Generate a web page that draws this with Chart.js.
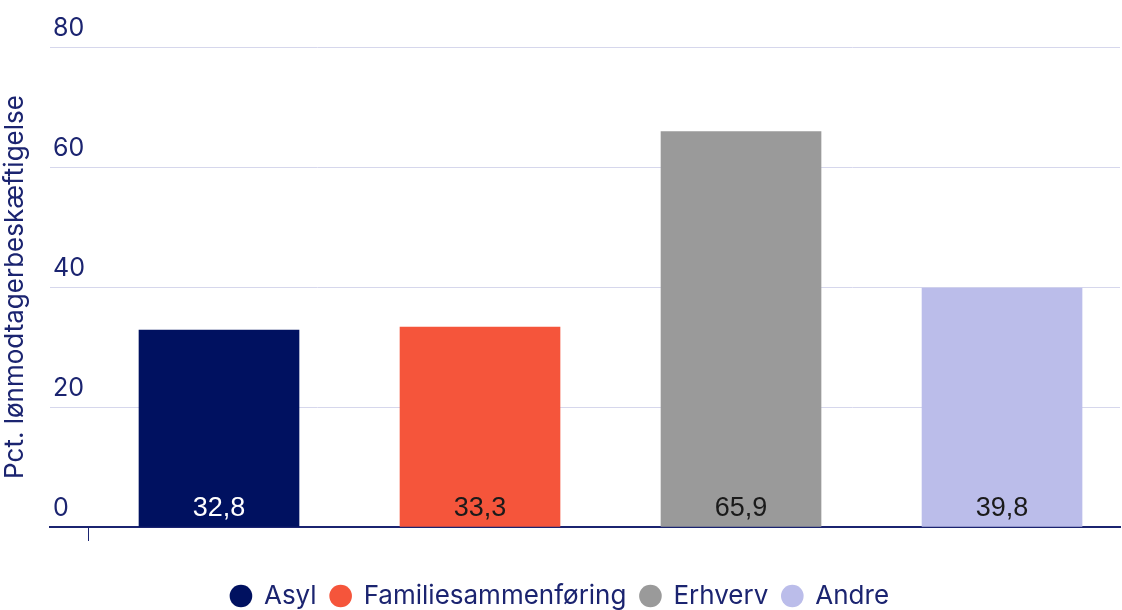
<!doctype html>
<html lang="da">
<head>
  <meta charset="utf-8">
  <title>Lønmodtagerbeskæftigelse</title>
  <script src="https://cdn.jsdelivr.net/npm/chart.js"></script>
  <style>
    html, body { margin: 0; padding: 0; background: #fff; }
    #wrap { width: 1122px; height: 610px; }
  </style>
</head>
<body>
  <div id="wrap"><canvas id="bars"></canvas></div>
  <script>
    // data
    var groups = ['Asyl', 'Familiesammenføring', 'Erhverv', 'Andre'];
    var values = [32.8, 33.3, 65.9, 39.8];
    var colors = ['#001160', '#f5553b', '#9a9a9a', '#bbbdea'];
    var labelColors = ['#ffffff', '#1a1a1a', '#1a1a1a', '#1a1a1a'];
    var yTicks = [0, 20, 40, 60, 80];

    var navy = '#1b2470';
    var uiFont = 'Inter, "Open Sans", sans-serif';

    var datasets = groups.map(function (g, i) {
      return {
        label: g,
        data: [{ x: i + 1, y: values[i] }],
        backgroundColor: colors[i],
        barThickness: 160,
        grouped: false,
        valueColor: labelColors[i]
      };
    });

    // value labels at the foot of each bar
    var valueLabels = {
      id: 'valueLabels',
      afterDatasetsDraw: function (chart) {
        var ctx = chart.ctx;
        ctx.save();
        ctx.font = '27px "Liberation Sans", Arial, sans-serif';
        ctx.textAlign = 'center';
        ctx.textBaseline = 'middle';
        chart.data.datasets.forEach(function (ds, i) {
          var bar = chart.getDatasetMeta(i).data[0];
          ctx.fillStyle = ds.valueColor;
          ctx.fillText(String(ds.data[0].y).replace('.', ','), bar.x, bar.base - 18);
        });
        ctx.restore();
      }
    };

    new Chart(document.getElementById('bars'), {
      type: 'bar',
      data: { datasets: datasets },
      plugins: [valueLabels],
      options: {
        responsive: true,
        maintainAspectRatio: false,
        animation: false,
        layout: { padding: { top: 47, right: 2, bottom: -9, left: 0 } },
        plugins: {
          legend: {
            position: 'bottom',
            labels: {
              usePointStyle: true,
              pointStyle: 'circle',
              boxWidth: 20,
              boxHeight: 16,
              padding: 14,
              color: navy,
              font: { family: uiFont, size: 26 }
            }
          },
          tooltip: { enabled: false }
        },
        scales: {
          x: {
            type: 'linear',
            offset: false,
            min: 0.3525,
            max: 4.452,
            afterBuildTicks: function (s) { s.ticks = [{ value: 0.5 }]; },
            afterFit: function (s) { s.height = 42; },
            ticks: { display: false },
            grid: { offset: false, drawOnChartArea: false, color: navy, tickLength: 14, tickWidth: 1 },
            border: { color: navy, width: 2 }
          },
          y: {
            min: 0,
            max: 80,
            afterBuildTicks: function (s) { s.ticks = yTicks.map(function (v) { return { value: v }; }); },
            afterFit: function (s) { s.width = 50; },
            ticks: {
              mirror: true,
              padding: 3,
              labelOffset: -19,
              color: navy,
              font: { family: uiFont, size: 25 }
            },
            grid: { color: '#d6d7ec', drawTicks: false, lineWidth: 1 },
            border: { display: false },
            title: {
              display: true,
              text: 'Pct. lønmodtagerbeskæftigelse',
              color: navy,
              padding: { top: 0, bottom: 0 },
              font: { family: uiFont, size: 26 }
            }
          }
        }
      }
    });
  </script>
</body>
</html>
